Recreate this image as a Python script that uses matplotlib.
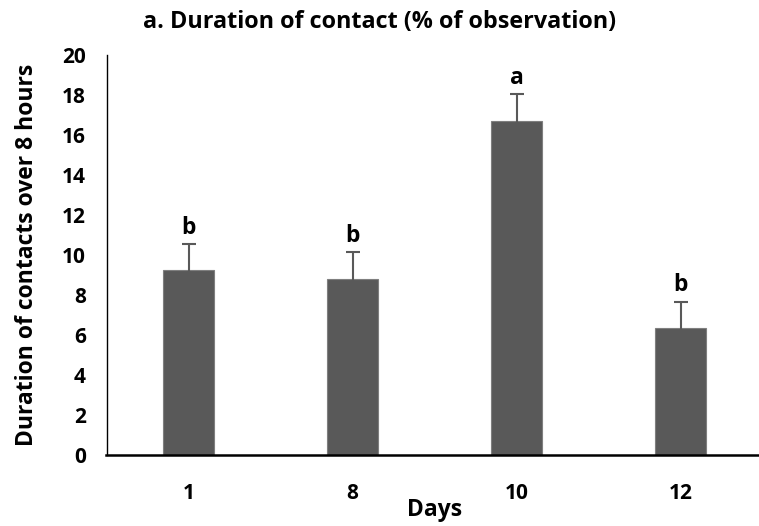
import matplotlib.pyplot as plt
import numpy as np

# ── DATA ──────────────────────────────────────────────────────────────────
days = ['1', '8', '10', '12']
duration = [9.23, 8.82, 16.72, 6.33]
err = [1.32, 1.31, 1.31, 1.34]
letters = ['b', 'b', 'a', 'b']

plt.rcParams['font.family'] = ['Open Sans', 'DejaVu Sans']
plt.rcParams['font.weight'] = 'bold'

bar_clr = '#595959'

fig = plt.figure(figsize=(7.59, 5.26), dpi=100, facecolor='w')
ax = fig.add_axes([106.5 / 759, 71 / 526, 656 / 759, 400 / 526])

x = np.arange(len(days))
ax.bar(x, duration, width=0.31, color=bar_clr, edgecolor='#7f7f7f', linewidth=0.8,
       yerr=err, error_kw=dict(ecolor=bar_clr, elinewidth=1.5, capsize=5, capthick=1.5))

for i in range(len(days)):
    ax.annotate(letters[i], (x[i], duration[i] + err[i]), xytext=(0, 3),
                textcoords='offset points', ha='center', va='bottom',
                fontsize=16.5, fontweight='bold')

ax.set_xlim(-0.5, 3.5)
ax.set_ylim(0, 20)
ax.set_yticks(range(0, 21, 2))
ax.set_xticks(x)
ax.set_xticklabels(days)
ax.tick_params(axis='both', length=0, labelsize=15)
ax.tick_params(axis='x', pad=20)
ax.tick_params(axis='y', pad=15)

for s in ['top', 'right']:
    ax.spines[s].set_visible(False)
ax.spines['left'].set_linewidth(1.0)
ax.spines['bottom'].set_linewidth(1.8)

ax.set_xlabel('Days', fontsize=16.5, fontweight='bold', labelpad=-4)
ax.set_ylabel('Duration of contacts over 8 hours', fontsize=16.5, fontweight='bold', labelpad=16)
fig.text(380 / 759, 1 - 22 / 526, 'a. Duration of contact (% of observation)',
         ha='center', va='center', fontsize=16.8, fontweight='bold')

fig.savefig('out.png', dpi=100)
